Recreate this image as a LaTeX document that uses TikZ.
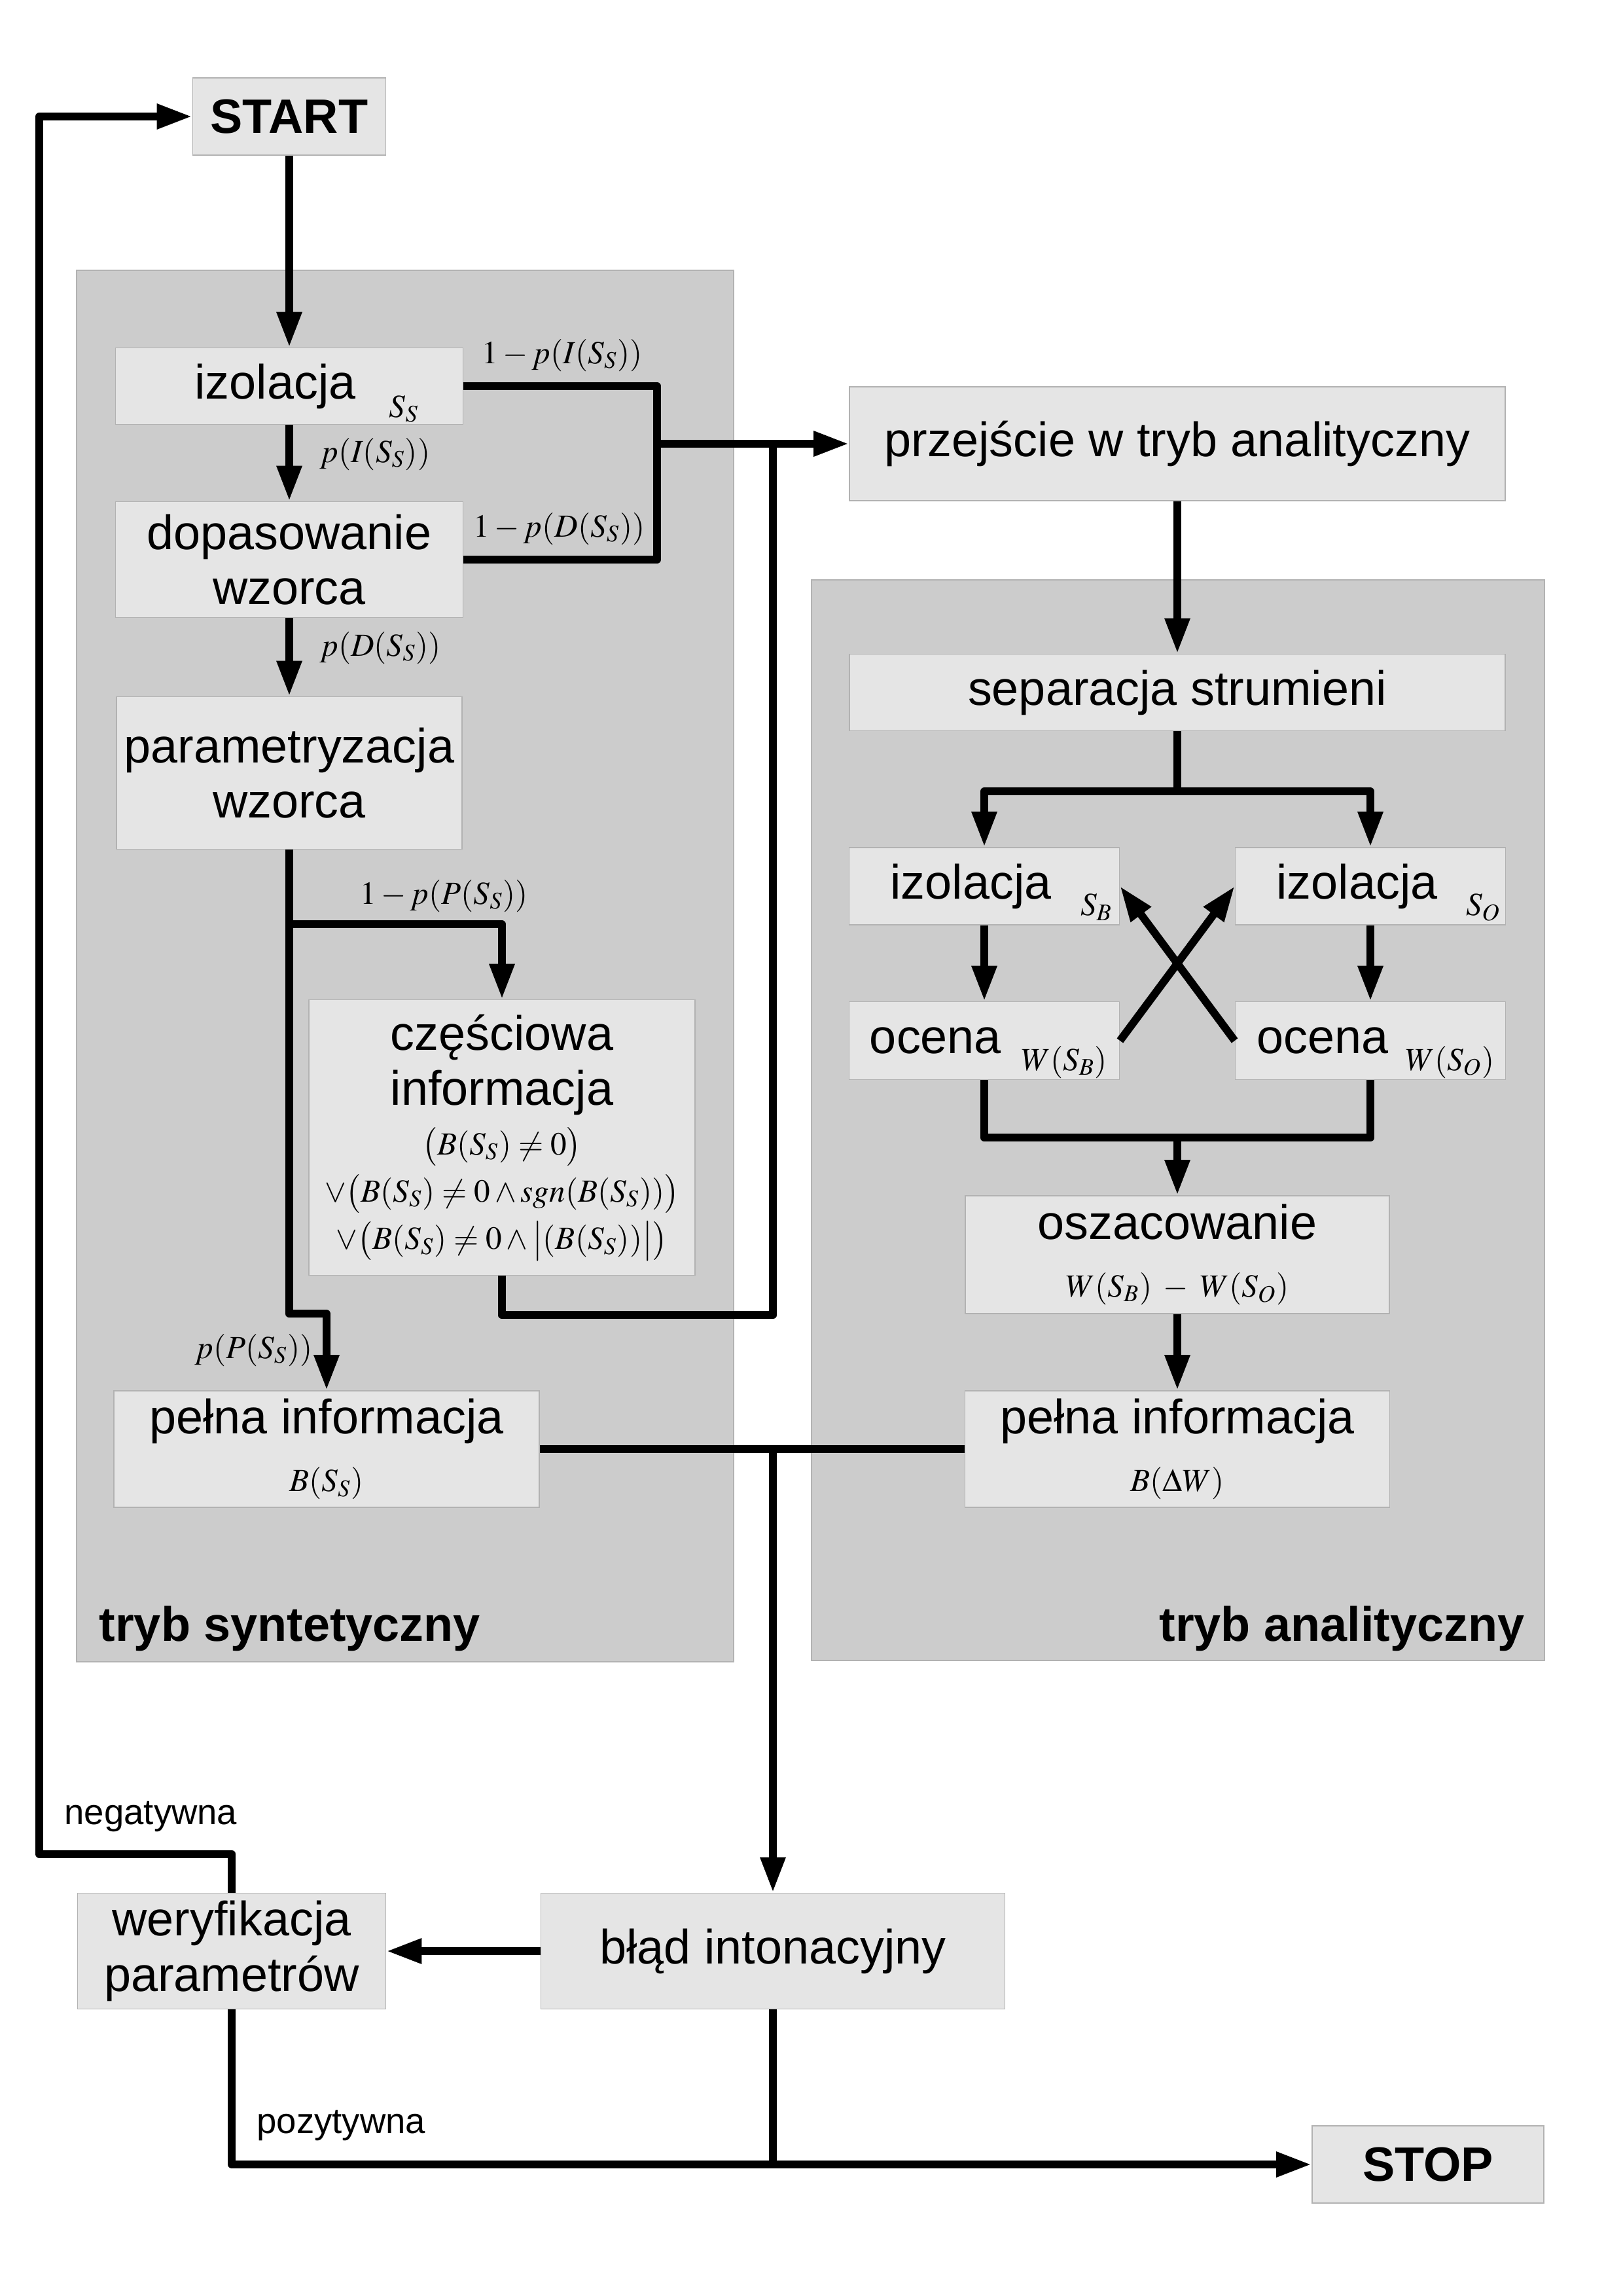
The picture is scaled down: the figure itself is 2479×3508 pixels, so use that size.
\documentclass[tikz,border=0pt]{standalone}
\usepackage{mathptmx}
\usepackage[no-math]{fontspec}
\setmainfont{Liberation Sans}
\usetikzlibrary{positioning, arrows.meta, calc}

\newcommand{\mfnt}{\fontsize{14}{17}\selectfont}
\newcommand{\boxfnt}{\fontsize{21}{24}\selectfont}

\begin{document}
\begin{tikzpicture}[x=0.1mm, y=-0.1mm,
    box/.style={draw=black!30, fill=black!10, line width=0.5pt, inner sep=0pt, align=center, font=\boxfnt},
    boldbox/.style={box, font=\boxfnt\bfseries},
    region/.style={draw=black!30, fill=black!20, line width=0.5pt},
    conn/.style={line width=3.4pt, line join=round},
    arr/.style={conn, -{Triangle[length=5.4mm, width=3.6mm]}},
    lbl/.style={font=\mfnt, inner sep=0pt},
    title/.style={font=\boxfnt\bfseries, inner sep=0pt},
    note/.style={font=\fontsize{15.5}{18}\selectfont, inner sep=0pt}]

    % Obszar strony (piksele)
    \useasboundingbox (0,0) rectangle (2479,3508);

    % Tla obu trybow
    \draw[region] (117,413) rectangle (1121,2539);
    \draw[region] (1240,886) rectangle (2360,2537);
    \node[title, anchor=west] (synTitle) at (151,2488) {tryb syntetyczny};
    \node[title, anchor=east] (anaTitle) at (2330,2488) {tryb analityczny};

    % Tryb syntetyczny
    \node[boldbox, minimum width=29.5mm, minimum height=11.8mm] (start) at (442,178) {START};
    \node[box, minimum width=53.1mm, minimum height=11.7mm] (izoS) at (442,590) {izolacja\hspace*{4.3mm}};
    \node[box, minimum width=53.1mm, minimum height=17.7mm] (dopS) at (442,855) {dopasowanie\\wzorca};
    \node[box, minimum width=52.8mm, minimum height=23.3mm] (parS) at (442,1181) {parametryzacja\\wzorca};
    \node[box, minimum width=59mm, minimum height=42.1mm] (czesc) at (767,1738)
        {częściowa\\informacja\\[-0.9mm]
         {\mfnt $\bigl(B(S_S)\neq 0\bigr)$}\\[-1.2mm]
         {\mfnt $\vee\bigl(B(S_S)\neq 0\wedge \mathit{sgn}(B(S_S))\bigr)$}\\[-1.2mm]
         {\mfnt $\vee\bigl(B(S_S)\neq 0\wedge\bigl|(B(S_S))\bigr|\bigr)$}};
    \node[box, minimum width=65mm, minimum height=17.8mm] (pelnaS) at (499,2214)
        {pełna informacja\\[1pt]{\mfnt $B(S_S)$}};

    % Tryb analityczny
    \node[box, minimum width=100.2mm, minimum height=17.4mm] (przej) at (1799,678) {przejście w tryb analityczny};
    \node[box, minimum width=100.2mm, minimum height=11.7mm] (sep) at (1799,1058) {separacja strumieni};
    \node[box, minimum width=41.3mm, minimum height=11.8mm] (izoB) at (1504,1354) {izolacja\hspace*{4.1mm}};
    \node[box, minimum width=41.3mm, minimum height=11.8mm] (izoO) at (2094,1354) {izolacja\hspace*{4.1mm}};
    \node[box, minimum width=41.3mm, minimum height=11.9mm] (ocB) at (1504,1590) {ocena\hspace*{14.9mm}};
    \node[box, minimum width=41.3mm, minimum height=11.9mm] (ocO) at (2094,1590) {ocena\hspace*{14.6mm}};
    \node[box, minimum width=64.8mm, minimum height=18mm] (osz) at (1799,1917)
        {oszacowanie\\[1pt]{\mfnt $W(S_B)\;-\;W(S_O)$}};
    \node[box, minimum width=64.9mm, minimum height=17.8mm] (pelnaA) at (1799,2214)
        {pełna informacja\\[1pt]{\mfnt $B(\Delta W)$}};

    % Indeksy strumieni i ocen
    \node[lbl] (subS) at ($(izoS.east)+(-91,35)$) {$S_S$};
    \node[lbl] (subB) at ($(izoB.east)+(-36,32)$) {$S_B$};
    \node[lbl] (subO) at ($(izoO.east)+(-35,32)$) {$S_O$};
    \node[lbl] (wB) at ($(ocB.east)+(-85,33)$) {$W(S_B)$};
    \node[lbl] (wO) at ($(ocO.east)+(-86,33)$) {$W(S_O)$};

    % Weryfikacja i koniec
    \node[box, minimum width=47.1mm, minimum height=17.7mm] (wer) at (354,2981) {weryfikacja\\parametrów};
    \node[box, minimum width=70.9mm, minimum height=17.7mm] (blad) at (1181,2981) {błąd intonacyjny};
    \node[boldbox, minimum width=35.4mm, minimum height=11.8mm] (stop) at (2182,3307) {STOP};

    % Punkty wezlowe
    \coordinate (jA) at (1004,678);
    \coordinate (jQ) at (1181,678);
    \coordinate (jL) at (60,178);

    % Polaczenia - tryb syntetyczny
    \draw[arr] (start) -- (izoS);
    \draw[arr] (izoS) -- (dopS);
    \draw[arr] (dopS) -- (parS);
    \draw[conn] (izoS.east) -| (jA) |- (dopS.east);
    \draw[arr] (jA) -- (przej.west);
    \draw[arr] (parS.south) -- ++(0,709) -| (pelnaS.north);
    \draw[arr] ($(parS.south)+(0,114)$) -| (czesc.north);
    \draw[conn] (czesc.south) -- ++(0,60) -| (jQ);
    \draw[conn] (pelnaS.east) -- (pelnaA.west);
    \draw[arr] (pelnaS.east -| blad.north) -- (blad.north);

    % Etykiety prawdopodobienstw
    \node[lbl, anchor=west] (lIS) at (736,543) {$1-p(I(S_S))$};
    \node[lbl, anchor=west] (pIS) at (488,694) {$p(I(S_S))$};
    \node[lbl, anchor=west] (lDS) at (723,808) {$1-p(D(S_S))$};
    \node[lbl, anchor=west] (pDS) at (488,990) {$p(D(S_S))$};
    \node[lbl, anchor=west] (lPS) at (550,1369) {$1-p(P(S_S))$};
    \node[lbl, anchor=east] (pPS) at (478,2063) {$p(P(S_S))$};

    % Polaczenia - tryb analityczny
    \draw[arr] (przej) -- (sep);
    \draw[conn] (sep.south) -- ++(0,92) coordinate (jS);
    \foreach \n in {izoB, izoO} {
        \draw[arr] (jS) -| (\n.north);
    }
    \draw[arr] (izoB) -- (ocB);
    \draw[arr] (izoO) -- (ocO);
    \draw[arr] (ocB.east) -- (izoO.west);
    \draw[arr] (ocO.west) -- (izoB.east);
    \draw[conn] (ocB.south) -- ++(0,88) coordinate (jW) -| (ocO.south);
    \draw[arr] (jW -| osz.north) -- (osz.north);
    \draw[arr] (osz) -- (pelnaA);

    % Weryfikacja
    \draw[arr] (blad) -- (wer);
    \draw[arr] (wer.north) -- ++(0,-59) -| (jL) -- (start.west);
    \draw[arr] (wer.south) |- (stop.west);
    \draw[conn] (blad.south) -- (blad.south |- stop.west);
    \node[note, anchor=west] (neg) at (98,2776) {negatywna};
    \node[note, anchor=west] (poz) at (392,3247) {pozytywna};

\end{tikzpicture}
\end{document}
